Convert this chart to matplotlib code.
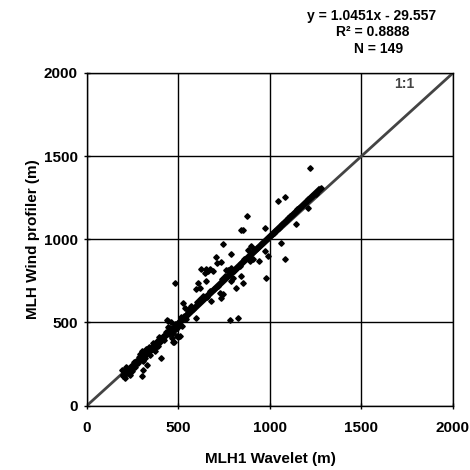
import numpy as np
import matplotlib.pyplot as plt

plt.rcParams["font.family"] = ["Liberation Sans", "DejaVu Sans"]
plt.rcParams["font.weight"] = "bold"

# MLH1 wavelet (x) vs wind profiler (y), metres
wavelet = [
    190, 195, 200, 208, 215, 220, 228, 235, 240, 244, 250, 258, 265, 270, 281,
    285, 290, 299, 299, 305, 308, 312, 317, 320, 326, 330, 340, 345, 350, 363,
    365, 372, 380, 385, 390, 395, 400, 406, 415, 420, 430, 439, 441, 443, 450,
    454, 460, 463, 465, 470, 472, 474, 479, 480, 485, 490, 497, 500, 505, 508,
    512, 520, 525, 530, 534, 540, 550, 561, 570, 580, 598, 598, 600, 607, 616,
    620, 625, 635, 643, 650, 652, 655, 661, 670, 673, 680, 690, 695, 707, 710,
    715, 725, 732, 734, 740, 743, 743, 755, 762, 770, 780, 789, 789, 789, 798,
    805, 816, 820, 825, 834, 840, 844, 853, 844, 853, 860, 876, 880, 889, 898,
    907, 915, 930, 938, 955, 971, 971, 980, 989, 990, 1000, 1010, 1020, 1030,
    1044, 1050, 1062, 1065, 1080, 1084, 1090, 1100, 1110, 1125, 1140, 1144,
    1150, 1160, 1175, 1190, 1208, 1210, 1220, 1230, 1250, 1265, 1280,
]
profiler = [
    216, 180, 200, 166, 230, 195, 210, 186, 240, 206, 225, 260, 230, 270, 256,
    290, 310, 176, 325, 265, 216, 300, 286, 340, 246, 320, 350, 305, 335, 376,
    340, 325, 390, 360, 357, 410, 380, 284, 420, 395, 440, 517, 511, 470, 430,
    467, 500, 406, 450, 384, 437, 382, 738, 490, 460, 420, 414, 470, 500, 417,
    530, 480, 617, 540, 587, 520, 560, 587, 600, 580, 527, 698, 620, 738, 708,
    640, 820, 660, 798, 820, 748, 650, 808, 690, 820, 628, 812, 700, 893, 858,
    720, 678, 863, 648, 760, 668, 973, 780, 818, 818, 517, 913, 830, 748, 768,
    810, 708, 830, 527, 838, 860, 1053, 1053, 778, 738, 880, 1141, 935, 870, 959,
    880, 940, 950, 868, 980, 929, 1069, 768, 899, 1010, 1020, 1030, 1040, 1050,
    1230, 1070, 979, 1090, 884, 1254, 1110, 1130, 1140, 1150, 1170, 1089,
    1180, 1190, 1200, 1220, 1190, 1240, 1431, 1260, 1270, 1290, 1310,
]

slope, intercept = 1.0451, -29.557
r2 = 0.8888
n_obs = 149

fig = plt.figure(figsize=(4.7, 4.7), dpi=100)
ax = fig.add_axes([0.1851, 0.1372, 0.7787, 0.7075])

# 1:1 line
ax.plot([0, 2000], [0, 2000], color="#444444", linewidth=2, zorder=2)

ax.plot(wavelet, profiler, linestyle="none", marker="D", markersize=2.8,
        color="black", zorder=3)

# linear trend over the data range
xs = np.array([min(wavelet), max(wavelet)])
ax.plot(xs, slope * xs + intercept, color="black", linewidth=4.5,
        solid_capstyle="butt", zorder=4)

ax.set_xlim(0, 2000)
ax.set_ylim(0, 2000)
ax.set_xticks([0, 500, 1000, 1500, 2000])
ax.set_yticks([0, 500, 1000, 1500, 2000])
ax.grid(True, color="black", linewidth=1)
ax.set_axisbelow(True)
ax.tick_params(direction="inout", length=5, width=1, labelsize=11)
ax.tick_params(axis="x", pad=9)
ax.tick_params(axis="y", pad=4)
for s in ax.spines.values():
    s.set_linewidth(1)

ax.set_xlabel("MLH1 Wavelet (m)", fontsize=11, fontweight="bold", labelpad=12)
ax.set_ylabel("MLH Wind profiler (m)", fontsize=11, fontweight="bold", labelpad=3)

ax.text(1736, 1931, "1:1", color="#444444", fontsize=10, fontweight="bold",
        ha="center", va="center")

fig.text(372 / 470, 1 - 16 / 470, f"y = {slope}x - {abs(intercept)}",
         ha="center", va="center", fontsize=10, fontweight="bold")
fig.text(373 / 470, 1 - 32.5 / 470, f"R² = {r2}",
         ha="center", va="center", fontsize=10, fontweight="bold")
fig.text(379 / 470, 1 - 49 / 470, f"N = {n_obs}",
         ha="center", va="center", fontsize=10, fontweight="bold")

fig.savefig("out.png", dpi=100)
